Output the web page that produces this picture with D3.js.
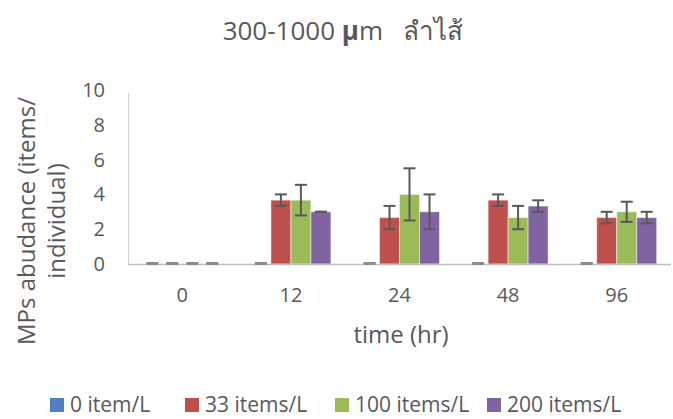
<!DOCTYPE html>
<html>
<head>
<meta charset="utf-8">
<script src="https://cdn.jsdelivr.net/npm/d3@7"></script>
<style>
  body { margin: 0; background: #fff; }
  text { font-family: "Open Sans", "Noto Sans", sans-serif; fill: #595959; }
</style>
</head>
<body>
<div id="chart"></div>
<script>
// data
var times = ["0", "12", "24", "48", "96"];
var seriesNames = ["0 item/L", "33 items/L", "100 items/L", "200 items/L"];
var colors = ["#4F81BD", "#C0504D", "#9BBB59", "#8064A2"];
var item0 = [0, 0, 0, 0, 0];
var item33 = [0, 3.67, 2.67, 3.67, 2.67];
var item100 = [0, 3.67, 4.0, 2.67, 3.0];
var item200 = [0, 3.0, 3.0, 3.33, 2.67];
var err0 = [0, 0, 0, 0, 0];
var err33 = [0, 0.33, 0.67, 0.33, 0.33];
var err100 = [0, 0.88, 1.5, 0.67, 0.58];
var err200 = [0, 0, 1.0, 0.33, 0.33];
var yTicks = [0, 2, 4, 6, 8, 10];

var values = [item0, item33, item100, item200];
var errors = [err0, err33, err100, err200];

var svgWidth = 673;
var svgHeight = 419;

var margin = { top: 90, right: 2, bottom: 155, left: 128 };
var width = svgWidth - margin.left - margin.right;
var height = svgHeight - margin.top - margin.bottom;

var svg = d3.select("#chart")
  .append("svg")
  .attr("width", svgWidth)
  .attr("height", svgHeight);

var chartGroup = svg.append("g")
  .attr("transform", `translate(${margin.left}, ${margin.top})`);

var xScale = d3.scaleBand()
  .domain(times)
  .range([0, width]);

var xInner = d3.scaleBand()
  .domain(seriesNames)
  .range([0, 80]);

var yScale = d3.scaleLinear()
  .domain([0, 10])
  .range([height, 0]);

// flatten to one record per bar
var bars = [];
times.forEach(function(t, i) {
  seriesNames.forEach(function(s, j) {
    bars.push({ time: t, series: s, color: colors[j], value: values[j][i], err: errors[j][i] });
  });
});

function barX(d) {
  return xScale(d.time) + xScale.bandwidth() / 2 - 40 + xInner(d.series);
}

// bars
chartGroup.selectAll("rect.bar")
  .data(bars.filter(d => d.value > 0))
  .enter()
  .append("rect")
  .attr("class", "bar")
  .attr("x", d => barX(d))
  .attr("y", d => yScale(d.value))
  .attr("width", xInner.bandwidth())
  .attr("height", d => height - yScale(d.value))
  .attr("fill", d => d.color)
  .attr("stroke", "#ffffff")
  .attr("stroke-opacity", 0.5)
  .attr("stroke-width", 1);

// axes lines
chartGroup.append("line")
  .attr("x1", 0).attr("x2", width)
  .attr("y1", height + 0.5).attr("y2", height + 0.5)
  .attr("stroke", "#bfbfbf").attr("stroke-width", 1.5);

chartGroup.append("line")
  .attr("x1", 0.5).attr("x2", 0.5)
  .attr("y1", yScale(10) + 3).attr("y2", height)
  .attr("stroke", "#d0d0d0").attr("stroke-width", 1);

// error bars
var eb = chartGroup.selectAll("g.err")
  .data(bars)
  .enter()
  .append("g")
  .attr("class", "err")
  .attr("transform", d => `translate(${barX(d) + xInner.bandwidth() / 2}, 0)`);

eb.append("line")
  .attr("x1", 0).attr("x2", 0)
  .attr("y1", d => yScale(d.value + d.err))
  .attr("y2", d => yScale(d.value - d.err))
  .attr("stroke", "#595959").attr("stroke-width", 2);

eb.append("line")
  .attr("x1", -6).attr("x2", 6)
  .attr("y1", d => yScale(d.value + d.err))
  .attr("y2", d => yScale(d.value + d.err))
  .attr("stroke", d => d.err > 0 || d.value > 0 ? "#595959" : "#8c8c8c")
  .attr("stroke-width", 2);

eb.append("line")
  .attr("x1", -6).attr("x2", 6)
  .attr("y1", d => Math.min(yScale(d.value - d.err), height - 1))
  .attr("y2", d => Math.min(yScale(d.value - d.err), height - 1))
  .attr("stroke", d => d.err > 0 || d.value > 0 ? "#595959" : "#8c8c8c")
  .attr("stroke-width", 2);

// y tick labels
chartGroup.selectAll("text.ytick")
  .data(yTicks)
  .enter()
  .append("text")
  .attr("class", "ytick")
  .attr("x", -23)
  .attr("y", d => yScale(d))
  .attr("dy", "0.35em")
  .attr("text-anchor", "end")
  .style("font-size", "20px")
  .text(d => d);

// x tick labels
chartGroup.selectAll("text.xtick")
  .data(times)
  .enter()
  .append("text")
  .attr("class", "xtick")
  .attr("x", d => xScale(d) + xScale.bandwidth() / 2)
  .attr("y", height + 38)
  .attr("text-anchor", "middle")
  .style("font-size", "20px")
  .text(d => d);

// title
var title = svg.append("text")
  .attr("x", 343)
  .attr("y", 40)
  .attr("text-anchor", "middle")
  .style("font-size", "26px");
title.append("tspan").text("300-1000 ");
title.append("tspan").style("font-weight", "bold").text("μ");
title.append("tspan").text("m\u00a0\u00a0\u00a0ลำไส้");

// axis titles
svg.append("text")
  .attr("x", 401)
  .attr("y", 343)
  .attr("text-anchor", "middle")
  .style("font-size", "24px")
  .text("time (hr)");

var yTitle = svg.append("text")
  .attr("transform", "translate(35, 221) rotate(-90)")
  .attr("text-anchor", "middle")
  .style("font-size", "24px");
yTitle.append("tspan").attr("x", 0).attr("dy", 0).text("MPs abudance (items/");
yTitle.append("tspan").attr("x", 0).attr("dy", 30).text("individual)");

// legend
var legendX = [50, 185, 335, 487];
var legend = svg.selectAll("g.legend")
  .data(seriesNames)
  .enter()
  .append("g")
  .attr("class", "legend")
  .attr("transform", (d, i) => `translate(${legendX[i]}, 398)`);

legend.append("rect")
  .attr("width", 14).attr("height", 14)
  .attr("fill", (d, i) => colors[i]);

legend.append("text")
  .attr("x", 20)
  .attr("y", 14)
  .style("font-size", "21px")
  .text(d => d);
</script>
</body>
</html>
